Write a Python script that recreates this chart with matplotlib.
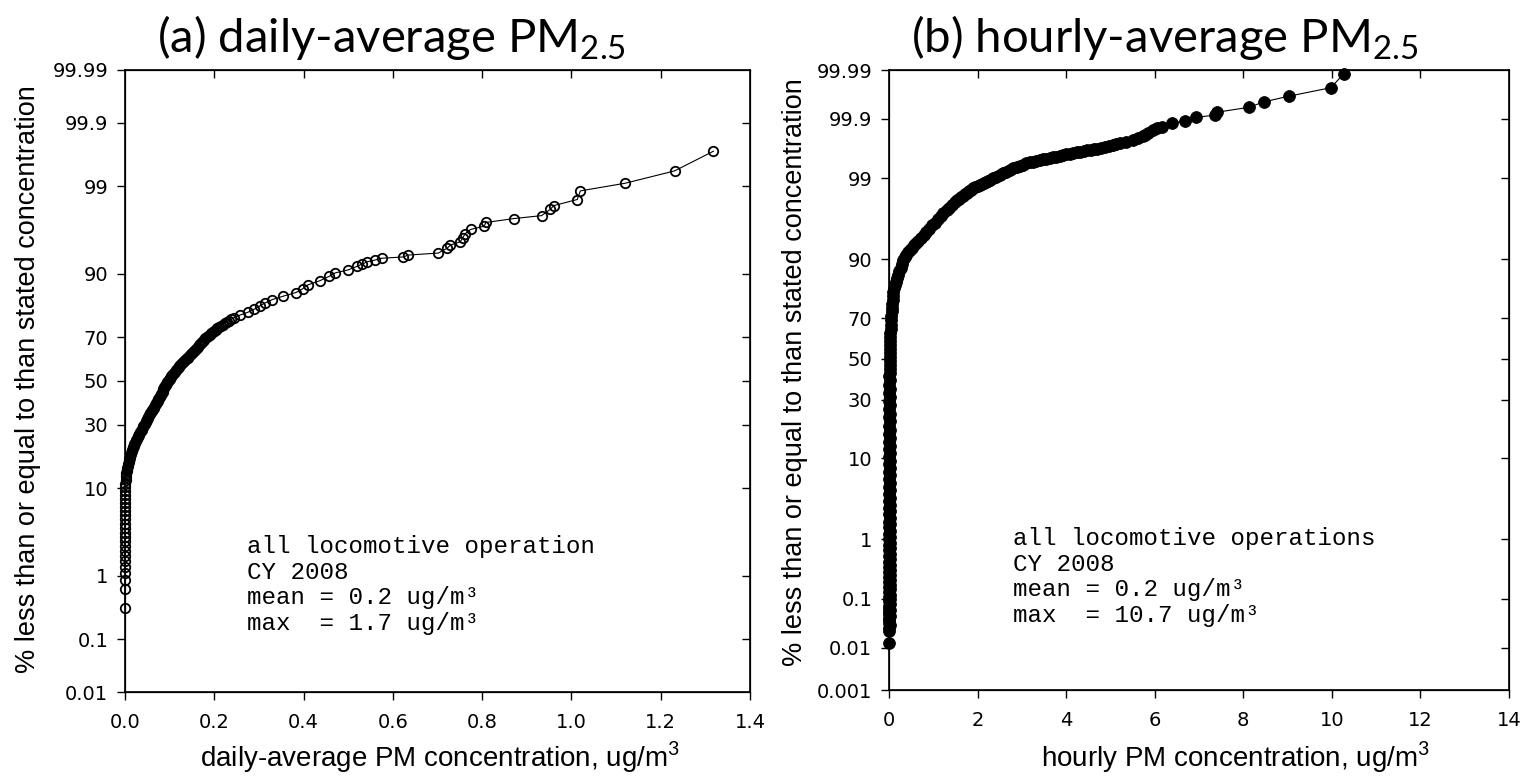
import math
import numpy as np
import matplotlib
matplotlib.use('Agg')
import matplotlib.pyplot as plt

# (a) daily-average PM2.5: (concentration ug/m3, cumulative percent)
daily_points = [
  (0.0, 0.33), (0.0, 0.64), (0.0, 0.87), (0.0, 1.07), (0.0, 1.3), (0.0, 1.55), (0.0, 1.8),
  (0.0, 2.1), (0.0, 2.4), (0.0, 2.75), (0.0, 3.1), (0.0, 3.5), (0.0, 3.9), (0.0, 4.4),
  (0.0, 4.9), (0.0, 5.4), (0.0, 6.0), (0.0, 6.6), (0.0, 7.2), (0.0, 7.9), (0.0, 8.6),
  (0.001, 9.4), (0.001, 10.2), (0.001, 11.0), (0.002, 11.8), (0.002, 12.6),
  (0.003, 13.0), (0.003, 13.5), (0.004, 14.0), (0.004, 14.5), (0.005, 15.0), (0.006, 15.5),
  (0.007, 16.0), (0.008, 16.5), (0.009, 17.0), (0.010, 17.5), (0.011, 18.0), (0.012, 18.5),
  (0.013, 19.0), (0.014, 19.5), (0.015, 20.0), (0.016, 20.5), (0.017, 21.0), (0.018, 21.5),
  (0.020, 22.0), (0.021, 22.5), (0.022, 23.0), (0.024, 23.5), (0.025, 24.0), (0.026, 24.5),
  (0.028, 25.0), (0.029, 25.5), (0.031, 26.0), (0.032, 26.5), (0.034, 27.0), (0.035, 27.5),
  (0.037, 28.0), (0.038, 28.5), (0.040, 29.0), (0.041, 29.5), (0.043, 30.0), (0.044, 30.5),
  (0.046, 31.0), (0.047, 31.5), (0.049, 32.0), (0.050, 32.5), (0.051, 33.0), (0.052, 33.5),
  (0.054, 34.0), (0.055, 34.5), (0.057, 35.0), (0.058, 35.5), (0.060, 36.0), (0.061, 36.5),
  (0.063, 37.0), (0.064, 37.5), (0.066, 38.0), (0.067, 38.5), (0.069, 39.0), (0.070, 39.5),
  (0.072, 40.0), (0.073, 40.5), (0.074, 41.0), (0.075, 41.5), (0.077, 42.0), (0.078, 42.5),
  (0.079, 43.0), (0.080, 43.5), (0.081, 44.0), (0.082, 44.5), (0.084, 45.0), (0.085, 45.5),
  (0.086, 46.0), (0.087, 46.5), (0.088, 47.0), (0.089, 47.5), (0.091, 48.0), (0.092, 48.5),
  (0.094, 49.0), (0.095, 49.5), (0.097, 50.0), (0.098, 50.5), (0.100, 51.0), (0.101, 51.5),
  (0.103, 52.0), (0.104, 52.5), (0.106, 53.0), (0.108, 53.5), (0.110, 54.0), (0.112, 54.5),
  (0.114, 55.0), (0.116, 55.5), (0.118, 56.0), (0.120, 56.5), (0.122, 57.0), (0.124, 57.5),
  (0.126, 58.0), (0.128, 58.5), (0.131, 59.0), (0.133, 59.5), (0.135, 60.0), (0.137, 60.5),
  (0.140, 61.0), (0.142, 61.5), (0.145, 62.0), (0.147, 62.5), (0.150, 63.0), (0.152, 63.5),
  (0.155, 64.0), (0.157, 64.5), (0.160, 65.0), (0.162, 65.5), (0.164, 66.0), (0.166, 66.5),
  (0.168, 67.0), (0.170, 67.5), (0.172, 68.0), (0.174, 68.5), (0.177, 69.0), (0.179, 69.5),
  (0.183, 70.0), (0.186, 70.5), (0.190, 71.0), (0.193, 71.5), (0.196, 72.0), (0.199, 72.5),
  (0.203, 73.0), (0.207, 73.5), (0.211, 74.0), (0.215, 74.5), (0.219, 75.0), (0.223, 75.5),
  (0.228, 76.0), (0.233, 76.5), (0.238, 77.0), (0.244, 77.5), (0.258, 78.5), (0.276, 79.5),
  (0.290, 80.5), (0.302, 81.5), (0.314, 82.5), (0.330, 83.5), (0.355, 84.5), (0.383, 85.5),
  (0.398, 86.5), (0.410, 87.5), (0.437, 88.5), (0.458, 89.5), (0.471, 90.2), (0.500, 90.8),
  (0.520, 91.5), (0.531, 91.9), (0.543, 92.3), (0.560, 92.6), (0.576, 92.9), (0.623, 93.1),
  (0.635, 93.4), (0.702, 93.7), (0.722, 94.4), (0.729, 94.8), (0.751, 95.2), (0.756, 95.6),
  (0.762, 96.1), (0.774, 96.5), (0.805, 96.8), (0.808, 97.1), (0.872, 97.4), (0.933, 97.6),
  (0.953, 98.0), (0.960, 98.2), (1.013, 98.5), (1.020, 98.85), (1.121, 99.1), (1.231, 99.4),
  (1.318, 99.7)]

# (b) hourly-average PM2.5
hourly_points = [
  (0.0, 0.0125), (0.01, 0.023), (0.0, 0.027), (0.02, 0.03), (0.0, 0.034), (0.01, 0.038),
  (0.0, 0.042), (0.02, 0.046), (0.01, 0.05), (0.0, 0.055), (0.02, 0.06), (0.01, 0.065),
  (0.0, 0.072), (0.02, 0.08), (0.01, 0.09), (0.03, 0.1), (0.0, 0.11), (0.02, 0.12),
  (0.01, 0.135), (0.03, 0.15), (0.0, 0.165), (0.02, 0.18), (0.01, 0.2), (0.03, 0.22),
  (0.0, 0.245), (0.02, 0.27), (0.01, 0.3), (0.03, 0.33), (0.0, 0.37), (0.02, 0.4),
  (0.01, 0.45), (0.03, 0.5), (0.0, 0.55), (0.02, 0.6), (0.01, 0.68), (0.03, 0.75),
  (0.0, 0.82), (0.02, 0.9), (0.01, 1.0), (0.03, 1.1), (0.0, 1.2), (0.02, 1.35),
  (0.01, 1.5), (0.03, 1.65), (0.0, 1.8), (0.02, 2.0), (0.01, 2.25), (0.03, 2.5),
  (0.0, 2.75), (0.02, 3.0), (0.01, 3.35), (0.03, 3.7), (0.0, 4.1), (0.02, 4.5),
  (0.01, 5.0), (0.03, 5.5), (0.0, 6.1), (0.02, 6.7), (0.01, 7.3), (0.03, 8.0),
  (0.0, 8.7), (0.02, 9.5), (0.01, 10.3), (0.03, 11.2), (0.0, 12.2), (0.02, 13.2),
  (0.01, 14.3), (0.03, 15.5), (0.0, 16.7), (0.02, 18.0), (0.01, 19.5), (0.03, 21.0),
  (0.0, 22.5), (0.02, 24.0), (0.01, 25.7), (0.03, 27.5), (0.01, 29.2), (0.02, 31.0),
  (0.01, 33.0), (0.03, 35.0), (0.01, 37.0), (0.02, 39.0), (0.01, 41.0), (0.03, 43.0),
  (0.02, 45.0), (0.03, 47.0), (0.02, 49.0), (0.03, 51.0), (0.02, 53.0),
  (0.02, 55.0), (0.03, 57.0), (0.02, 59.0), (0.03, 61.0), (0.03, 63.0), (0.04, 65.0),
  (0.04, 67.0), (0.05, 69.0), (0.05, 71.0), (0.06, 73.0), (0.07, 74.5), (0.07, 76.0),
  (0.08, 77.5), (0.09, 79.0), (0.10, 80.5), (0.11, 82.0), (0.13, 83.0), (0.15, 84.0),
  (0.17, 85.0), (0.20, 86.0), (0.23, 87.0), (0.26, 88.0), (0.29, 89.0), (0.32, 89.8),
  (0.35, 90.4), (0.39, 91.0), (0.43, 91.5), (0.47, 91.9), (0.51, 92.4), (0.56, 92.8),
  (0.61, 93.2), (0.66, 93.6), (0.72, 94.0), (0.78, 94.5), (0.84, 94.9), (0.91, 95.3),
  (0.97, 95.7), (1.04, 96.0), (1.10, 96.4), (1.17, 96.7), (1.23, 96.95), (1.30, 97.2),
  (1.36, 97.4), (1.42, 97.6), (1.48, 97.8), (1.53, 97.95), (1.57, 98.05), (1.62, 98.15),
  (1.66, 98.22), (1.71, 98.3), (1.75, 98.38), (1.80, 98.45), (1.85, 98.52), (1.90, 98.6),
  (1.95, 98.65), (2.00, 98.7), (2.05, 98.75), (2.10, 98.8), (2.15, 98.84), (2.19, 98.87),
  (2.24, 98.9), (2.28, 98.93), (2.35, 99.0), (2.42, 99.05), (2.50, 99.1), (2.57, 99.16),
  (2.65, 99.2), (2.73, 99.25), (2.81, 99.29), (2.89, 99.32), (2.96, 99.35), (3.03, 99.38),
  (3.10, 99.41), (3.18, 99.43), (3.25, 99.445), (3.33, 99.46), (3.40, 99.475), (3.48, 99.49),
  (3.55, 99.5), (3.63, 99.51), (3.70, 99.525), (3.78, 99.54), (3.85, 99.55), (3.93, 99.56),
  (4.00, 99.575), (4.08, 99.59), (4.16, 99.6), (4.24, 99.61), (4.32, 99.62), (4.40, 99.63),
  (4.48, 99.64), (4.55, 99.645), (4.62, 99.655), (4.70, 99.66), (4.79, 99.67), (4.88, 99.68),
  (4.96, 99.695), (5.05, 99.71), (5.13, 99.72), (5.21, 99.73), (5.35, 99.74), (5.51, 99.76),
  (5.62, 99.775), (5.73, 99.79), (5.78, 99.8), (5.85, 99.815), (5.96, 99.84), (6.06, 99.85),
  (6.16, 99.86), (6.39, 99.88), (6.68, 99.89), (6.93, 99.906), (7.36, 99.915), (7.40, 99.925),
  (8.13, 99.94), (8.46, 99.953), (9.03, 99.964), (9.98, 99.976), (10.27, 99.988)]

daily_conc = [p[0] for p in daily_points]
daily_pct = [p[1] for p in daily_points]
hourly_conc = [p[0] for p in hourly_points]
hourly_pct = [p[1] for p in hourly_points]

daily_yticks = [0.01, 0.1, 1, 10, 30, 50, 70, 90, 99, 99.9, 99.99]
hourly_yticks = [0.001, 0.01, 0.1, 1, 10, 30, 50, 70, 90, 99, 99.9, 99.99]
daily_xticks = [0.0, 0.2, 0.4, 0.6, 0.8, 1.0, 1.2, 1.4]
hourly_xticks = [0, 2, 4, 6, 8, 10, 12, 14]

daily_note = ['all locomotive operation', 'CY 2008', 'mean = 0.2 ug/m³', 'max  = 1.7 ug/m³']
hourly_note = ['all locomotive operations', 'CY 2008', 'mean = 0.2 ug/m³', 'max  = 10.7 ug/m³']

# normal probability scale (percent <-> z) through a lookup table
_z = np.linspace(-6, 6, 24001)
_cdf = np.array([50.0 * (1.0 + math.erf(v / math.sqrt(2.0))) for v in _z])
def to_z(p):
  return np.interp(p, _cdf, _z)
def from_z(z):
  return np.interp(z, _z, _cdf)

TICKFONT = ['Liberation Sans Narrow', 'DejaVu Sans Condensed', 'DejaVu Sans']
plt.rcParams['mathtext.fontset'] = 'custom'
plt.rcParams['mathtext.rm'] = 'Lato'

def panel(ax, x, y, xticks, xfmt, yticks, filled):
  ax.set_yscale('function', functions=(to_z, from_z))
  ax.set_ylim(yticks[0], yticks[-1])
  ax.set_xlim(xticks[0], xticks[-1])
  if filled:
    ax.plot(x, y, color='black', lw=0.8, marker='o', ms=8.5, mfc='black', mec='black',
            mew=0.6, clip_on=False, zorder=3)
  else:
    ax.plot(x, y, color='black', lw=0.8, marker='o', ms=6.8, mfc='none', mec='black',
            mew=1.3, clip_on=False, zorder=3)
  ax.set_xticks(xticks)
  ax.set_xticklabels([xfmt.format(v) for v in xticks], family=TICKFONT, fontsize=14)
  ax.set_yticks(yticks)
  ax.set_yticklabels([('%g' % v) for v in yticks], family=TICKFONT, fontsize=14)
  ax.yaxis.set_minor_locator(matplotlib.ticker.NullLocator())
  ax.tick_params(direction='out', length=6, width=1, pad=6)
  ax.tick_params(axis='x', pad=9)
  for s in ax.spines.values():
    s.set_linewidth(1.2)
  # inward ticks on the top and right spines
  tx = ax.twiny()
  tx.set_xlim(ax.get_xlim())
  tx.set_xticks(xticks[1:-1])
  tx.tick_params(direction='in', length=6, width=1, labeltop=False)
  ty = ax.twinx()
  ty.set_yscale('function', functions=(to_z, from_z))
  ty.set_ylim(ax.get_ylim())
  ty.set_yticks(yticks[1:-1])
  ty.yaxis.set_minor_locator(matplotlib.ticker.NullLocator())
  ty.tick_params(direction='in', length=6, width=1, labelright=False)

fig = plt.figure(figsize=(15.2, 7.8), dpi=100)
W, H = 1520.0, 780.0
ax1 = fig.add_axes([125 / W, 1 - 692 / H, 625 / W, 622 / H])
ax2 = fig.add_axes([889 / W, 1 - 690 / H, 620 / W, 620 / H])

panel(ax1, daily_conc, daily_pct, daily_xticks, '{:.1f}', daily_yticks, False)
panel(ax2, hourly_conc, hourly_pct, hourly_xticks, '{:d}', hourly_yticks, True)

# the anchor is the baseline of the last line
fig.text(247 / W, 1 - 630 / H, '\n'.join(daily_note), family='Liberation Mono',
         fontsize=17.4, va='baseline', ha='left', linespacing=1.14)
fig.text(1013 / W, 1 - 622 / H, '\n'.join(hourly_note), family='Liberation Mono',
         fontsize=17.4, va='baseline', ha='left', linespacing=1.14)

fig.text(391 / W, 1 - 52 / H, '(a) daily-average PM$_{2.5}$', family='Lato',
         fontsize=34, ha='center', va='baseline')
fig.text(1165 / W, 1 - 52 / H, '(b) hourly-average PM$_{2.5}$', family='Lato',
         fontsize=34, ha='center', va='baseline')

fig.text(440 / W, 1 - 767 / H, 'daily-average PM concentration, ug/m$^3$',
         family='Liberation Sans', fontsize=20, ha='center', va='baseline')
fig.text(1235 / W, 1 - 767 / H, 'hourly PM concentration, ug/m$^3$',
         family='Liberation Sans', fontsize=20, ha='center', va='baseline')
fig.text(28 / W, 1 - 379 / H, '% less than or equal to than stated concentration',
         family='Liberation Sans', fontsize=19.5, rotation=90, ha='center', va='center')
fig.text(795 / W, 1 - 372 / H, '% less than or equal to than stated concentration',
         family='Liberation Sans', fontsize=19.5, rotation=90, ha='center', va='center')

plt.savefig('out.png', dpi=100)
